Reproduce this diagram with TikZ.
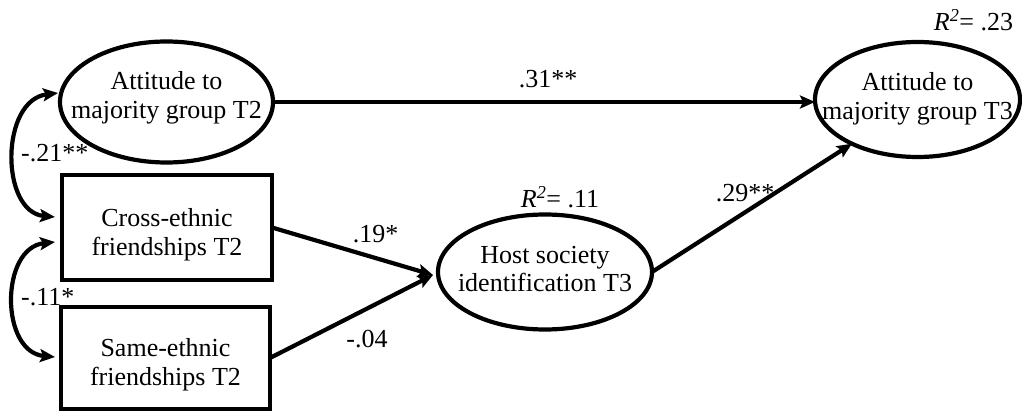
\documentclass[tikz,border=0pt]{standalone}
\usepackage{fontspec}
\setmainfont{Liberation Serif}
\usetikzlibrary{arrows.meta,shapes.geometric}
\newcommand\twolines[2]{\makebox[0pt]{\begin{tabular}{@{}c@{}}#1\\#2\end{tabular}}}
\newcommand\rsq[1]{{\itshape R\/}\textsuperscript{\itshape 2}= #1}
\begin{document}
\begin{tikzpicture}[x=1pt,y=-1pt,line width=4.2pt,
  font=\fontsize{26}{28.5}\selectfont,
  lat/.style={ellipse,draw,inner sep=0pt,outer sep=0pt},
  obs/.style={rectangle,draw,inner sep=0pt,outer sep=0pt},
  tip/.tip={Stealth[length=15pt,width=13pt,inset=3pt]},
  pathar/.style={-tip},
  cov/.style={tip-tip},
  coef/.style={inner sep=0pt,anchor=base},
  inlab/.style={inner sep=0pt}]
\useasboundingbox (0,0) rectangle (1022,411);

% nodes
\node[lat,minimum width=213pt,minimum height=121pt,
  label={[inlab,yshift=3.5pt]center:\twolines{Attitude to}{majority group T2}}] (t2) at (166.5,102) {};
\node[obs,minimum width=210pt,minimum height=105pt,
  label={[inlab,yshift=-8pt]center:\twolines{Cross-ethnic}{friendships T2}}] (cross) at (167,227.5) {};
\node[obs,minimum width=209pt,minimum height=102pt,
  label={[inlab,yshift=-7.5pt]center:\twolines{Same-ethnic}{friendships T2}}] (same) at (165.5,358) {};
\node[lat,minimum width=214pt,minimum height=115pt] (host) at (545,272) {\twolines{Host society}{identification T3}};
\node[lat,minimum width=205pt,minimum height=115pt] (t3) at (917.5,99.5) {\twolines{Attitude to}{majority group T3}};

% R squared
\node[coef] (r3) at (973.5,31) {\rsq{.23}};
\node[coef] (rh) at (560,208) {\rsq{.11}};

% covariance end points
\coordinate (ct2) at ([shift={(-2,-9)}]t2.west);
\coordinate (ccr1) at ([shift={(-7,-10.5)}]cross.west);
\coordinate (ccr2) at ([shift={(-7,14.5)}]cross.west);
\coordinate (csa) at ([shift={(-6,-1)}]same.west);
\coordinate (hin) at ([shift={(-5,3)}]host.west);

% paths
\draw[pathar] (t2.east) -- (t2.east -| t3.west);
\draw[pathar] (cross.east) -- (hin);
\draw[pathar] (same.east) -- (hin);
\draw[pathar] (host.east) -- (t3.214);

% covariances
\draw[cov] (ct2) .. controls +(-58,7) and +(-55,-5) .. (ccr1);
\draw[cov] (ccr2) .. controls +(-55,6) and +(-55,-5) .. (csa);

% coefficients
\node[coef] (b1) at (548,88) {.31**};
\node[coef] (b2) at (375.5,243) {.19*};
\node[coef] (b3) at (367,347) {-.04};
\node[coef] (b4) at (745,202) {.29**};
\node[coef,anchor=base west] (c1) at (19,162) {-.21**};
\node[coef,anchor=base west] (c2) at (19,306) {-.11*};
\end{tikzpicture}
\end{document}
